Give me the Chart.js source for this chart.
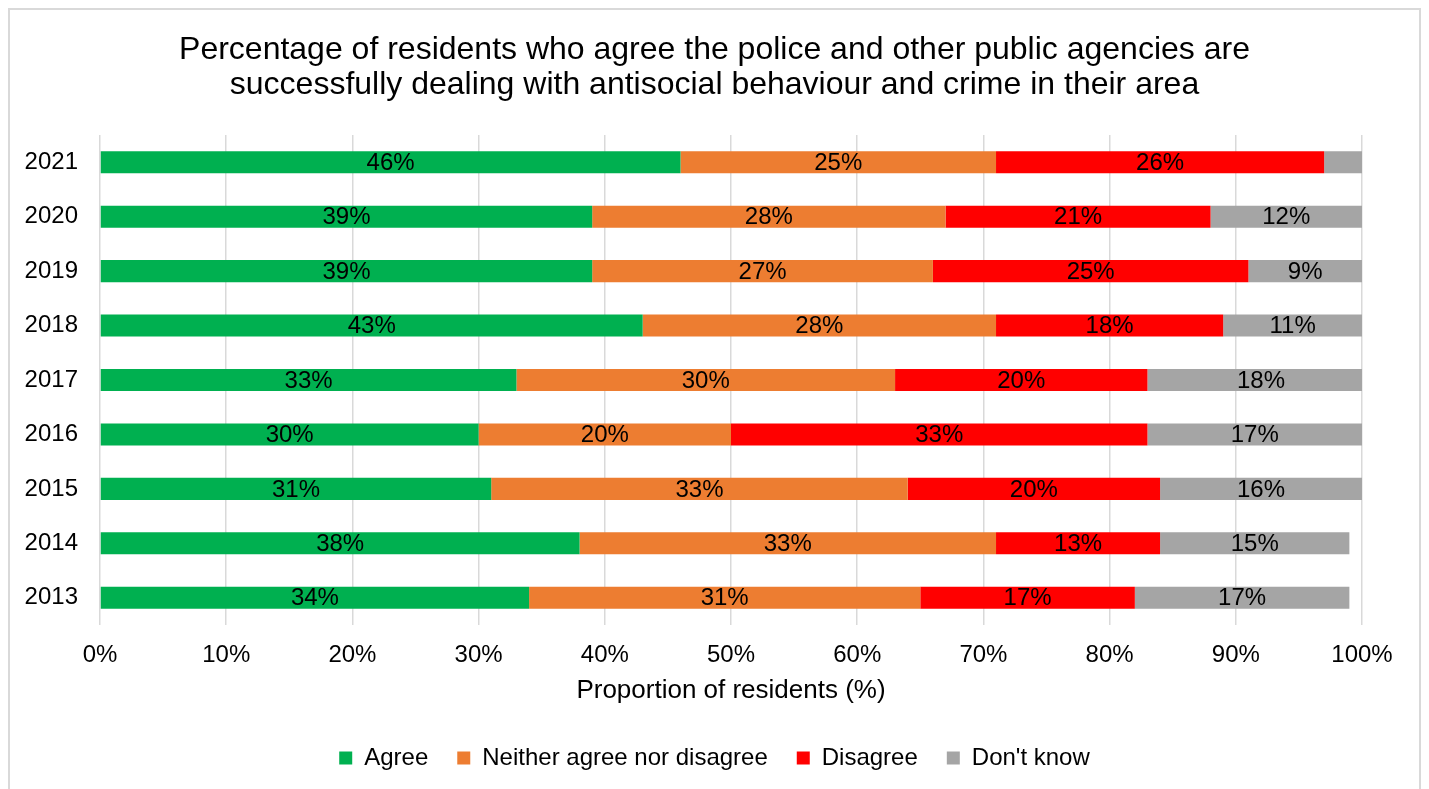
<!DOCTYPE html>
<html>
<head>
<meta charset="utf-8">
<title>Residents survey - police and public agencies</title>
<script src="https://cdn.jsdelivr.net/npm/chart.js@4"></script>
<style>
    html, body { margin: 0; padding: 0; background: #fff; overflow: hidden; }
    #frame {
        position: absolute; left: 8px; top: 8px; width: 1413px; height: 800px;
        border: 2px solid #d9d9d9; box-sizing: border-box;
    }
    #survey-chart { position: absolute; left: 0; top: 0; }
</style>
</head>
<body>
<div id="frame"></div>
<canvas id="survey-chart" width="1429" height="789"></canvas>
<script>
// Survey years, newest first (top row of the chart)
const years = ['2021', '2020', '2019', '2018', '2017', '2016', '2015', '2014', '2013'];

// Share of residents per answer (%)
const agree    = [46, 39, 39, 43, 33, 30, 31, 38, 34];
const neither  = [25, 28, 27, 28, 30, 20, 33, 33, 31];
const disagree = [26, 21, 25, 18, 20, 33, 20, 13, 17];
const dontKnow = [3, 12, 9, 11, 18, 17, 16, 15, 17];

const seriesNames = ['Agree', 'Neither agree nor disagree', 'Disagree', "Don't know"];
const seriesColours = ['#00B050', '#ED7D31', '#FF0000', '#A5A5A5'];

const FONT = "'Liberation Sans', Arial, sans-serif";

// Writes the percentage in the middle of each segment (small slivers are left blank)
const segmentLabels = {
    id: 'segmentLabels',
    afterDatasetsDraw(chart) {
        const ctx = chart.ctx;
        ctx.save();
        ctx.font = '24px ' + FONT;
        ctx.fillStyle = '#000';
        ctx.textAlign = 'center';
        ctx.textBaseline = 'middle';
        chart.data.datasets.forEach((ds, i) => {
            const meta = chart.getDatasetMeta(i);
            meta.data.forEach((bar, j) => {
                const v = ds.data[j];
                if (v < 5) return;
                const p = bar.getProps(['x', 'y', 'base'], true);
                ctx.fillText(v + '%', (p.x + p.base) / 2, p.y + 1);
            });
        });
        ctx.restore();
    }
};

function makeChart() {
    const ctx = document.getElementById('survey-chart').getContext('2d');
    const values = [agree, neither, disagree, dontKnow];

    return new Chart(ctx, {
        type: 'bar',
        data: {
            labels: years,
            datasets: values.map((arr, i) => ({
                label: seriesNames[i],
                data: arr,
                backgroundColor: seriesColours[i],
                borderWidth: 0,
                categoryPercentage: 1,
                barPercentage: 0.405
            }))
        },
        options: {
            indexAxis: 'y',
            responsive: false,
            animation: false,
            layout: { padding: { left: 0, right: 0, top: 0, bottom: 9 } },
            scales: {
                x: {
                    stacked: true,
                    min: 0,
                    max: 100,
                    afterFit: (s) => { s.height = 92; },
                    ticks: {
                        stepSize: 10,
                        padding: 16,
                        color: '#000',
                        font: { size: 24, family: FONT },
                        callback: (v) => v + '%'
                    },
                    grid: { color: '#d9d9d9', lineWidth: 1.5, drawTicks: false },
                    border: { display: false },
                    title: {
                        display: true,
                        text: 'Proportion of residents (%)',
                        color: '#000',
                        font: { size: 26, family: FONT },
                        padding: { top: 0, bottom: 11 }
                    }
                },
                y: {
                    stacked: true,
                    afterFit: (s) => { s.width = 100; },
                    ticks: {
                        padding: 22,
                        color: '#000',
                        font: { size: 24, family: FONT }
                    },
                    grid: { display: false, drawTicks: false },
                    border: { display: false }
                },
                // empty right-hand axis, only reserves the margin right of the plot
                spacer: {
                    type: 'linear',
                    axis: 'y',
                    position: 'right',
                    display: true,
                    afterFit: (s) => { s.width = 67; },
                    ticks: { display: false },
                    grid: { display: false, drawTicks: false },
                    border: { display: false }
                }
            },
            plugins: {
                title: {
                    display: true,
                    text: [
                        'Percentage of residents who agree the police and other public agencies are',
                        'successfully dealing with antisocial behaviour and crime in their area'
                    ],
                    color: '#000',
                    font: { size: 32, weight: 'normal', family: FONT, lineHeight: 1.1 },
                    padding: { top: 32.4, bottom: 32.2 }
                },
                legend: {
                    position: 'bottom',
                    labels: {
                        boxWidth: 13,
                        boxHeight: 13,
                        padding: 29,
                        color: '#000',
                        font: { size: 24, family: FONT }
                    }
                },
                tooltip: { enabled: false }
            }
        },
        plugins: [segmentLabels]
    });
}

document.addEventListener('DOMContentLoaded', () => {
    window.surveyChart = makeChart();
});
</script>
</body>
</html>
